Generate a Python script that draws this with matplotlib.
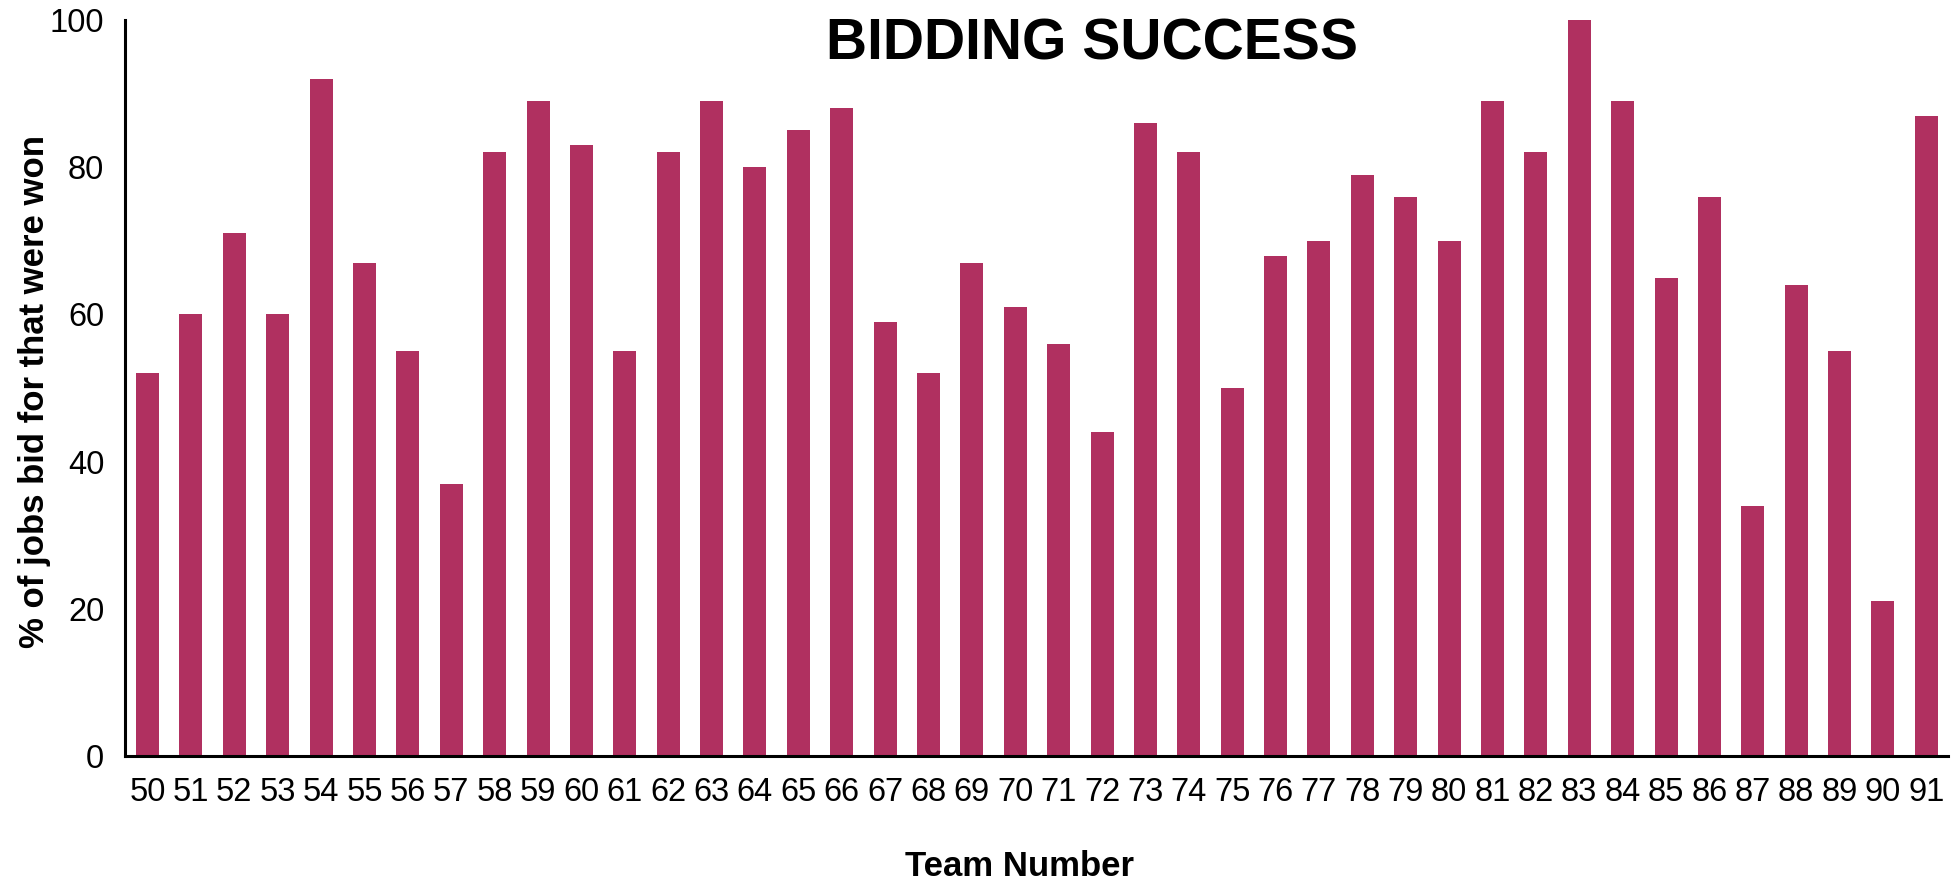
import matplotlib
matplotlib.use("Agg")
import matplotlib.pyplot as plt
import numpy as np

teams = list(range(50, 92))
success = [52, 60, 71, 60, 92, 67, 55, 37, 82, 89, 83, 55, 82, 89, 80, 85, 88,
           59, 52, 67, 61, 56, 44, 86, 82, 50, 68, 70, 79, 76, 70, 89, 82, 100,
           89, 65, 76, 34, 64, 55, 21, 87]
y_ticks = [0, 20, 40, 60, 80, 100]

title = "BIDDING SUCCESS"
x_label = "Team Number"
y_label = "% of jobs bid for that were won"
bar_color = "#B03060"

plt.rcParams['font.family'] = ['Liberation Sans', 'DejaVu Sans']

W, H = 1956, 881
fig = plt.figure(figsize=(W / 100, H / 100), dpi=100)
ax = fig.add_axes([125 / W, 1 - 756 / H, (1948 - 125) / W, (756 - 20) / H])

x = np.arange(len(teams))
ax.bar(x, success, width=0.53, color=bar_color, zorder=2)

ax.set_xlim(-0.52, len(teams) - 0.5)
ax.set_ylim(0, 100)
ax.set_yticks(y_ticks)
ax.set_xticks(x)
ax.set_xticklabels([str(t) for t in teams])
ax.tick_params(axis='both', length=0, labelsize=23.5, pad=15, colors='black')

for s in ['top', 'right']:
    ax.spines[s].set_visible(False)
for s in ['left', 'bottom']:
    ax.spines[s].set_linewidth(2.2)
    ax.spines[s].set_color('black')

ax.set_xlabel(x_label, fontsize=25, fontweight='bold')
ax.xaxis.label.set_va('baseline')
ax.xaxis.set_label_coords((1020 - 125) / 1823, (756 - 876) / 736)

ax.set_ylabel(y_label, fontsize=25, fontweight='bold')
ax.yaxis.label.set_va('baseline')
ax.yaxis.set_label_coords((44 - 125) / 1823, (756 - 392) / 736)

fig.text(1092 / W, 1 - 60 / H, title, fontsize=41, fontweight='bold',
         ha='center', va='baseline')

fig.savefig("out.png", dpi=100, facecolor='white')
